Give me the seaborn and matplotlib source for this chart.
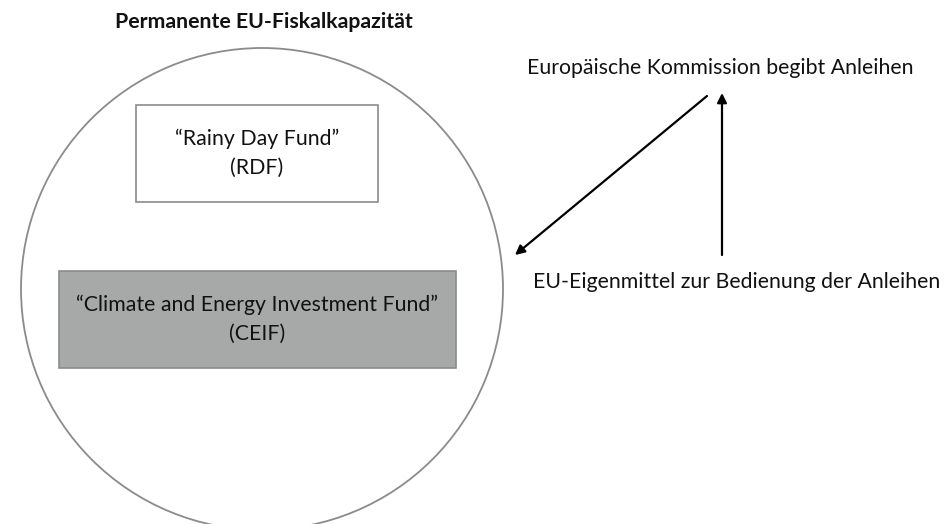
import matplotlib
matplotlib.use("Agg")
import matplotlib.pyplot as plt
import seaborn as sns
from matplotlib.patches import Circle, Rectangle

# Diagram content
title = "Permanente EU-Fiskalkapazität"
fund_names = ["\u201cRainy Day Fund\u201d", "\u201cClimate and Energy Investment Fund\u201d"]
fund_short = ["(RDF)", "(CEIF)"]
fund_colors = ["white", "#a7a9a8"]
flow_labels = ["Europäische Kommission begibt Anleihen",
               "EU-Eigenmittel zur Bedienung der Anleihen"]

sns.set_style("white")
plt.rcParams['font.family'] = ['Lato', 'DejaVu Sans']

fig = plt.figure(figsize=(9.44, 5.24), dpi=100)
ax = fig.add_axes([0, 0, 1, 1])
ax.set_xlim(0, 944)
ax.set_ylim(524, 0)
ax.set_aspect('equal')
ax.axis('off')

# big circle
ax.add_patch(Circle((262, 289), 241, fill=False, edgecolor="#8a8b8e", lw=1.3))
ax.text(264, 22, title, ha='center', va='center', fontsize=15.3,
        fontweight='bold', color='#111111')

# fund boxes
boxes = [(136, 105, 242, 97), (59, 271, 397, 97)]
for (x, y, w, h), name, short, col in zip(boxes, fund_names, fund_short, fund_colors):
    ax.add_patch(Rectangle((x, y), w, h, facecolor=col, edgecolor="#8a8b8e", lw=1.2))
    cx = x + w / 2
    ax.text(cx, y + h / 2 - 15, name, ha='center', va='center', fontsize=15.3, color='#111111')
    ax.text(cx, y + h / 2 + 14, short, ha='center', va='center', fontsize=15.3, color='#111111')

# flow labels
ax.text(720, 68, flow_labels[0], ha='center', va='center', fontsize=15.3, color='#111111')
ax.text(737, 282, flow_labels[1], ha='center', va='center', fontsize=15.3, color='#111111')

# arrows
arrow_style = dict(arrowstyle='-|>', color='black', lw=1.6, mutation_scale=14,
                   shrinkA=0, shrinkB=0)
ax.annotate('', xy=(515, 255), xytext=(707, 96), arrowprops=arrow_style)
ax.annotate('', xy=(722, 93), xytext=(722, 255), arrowprops=arrow_style)

fig.savefig("out.png", dpi=100)
